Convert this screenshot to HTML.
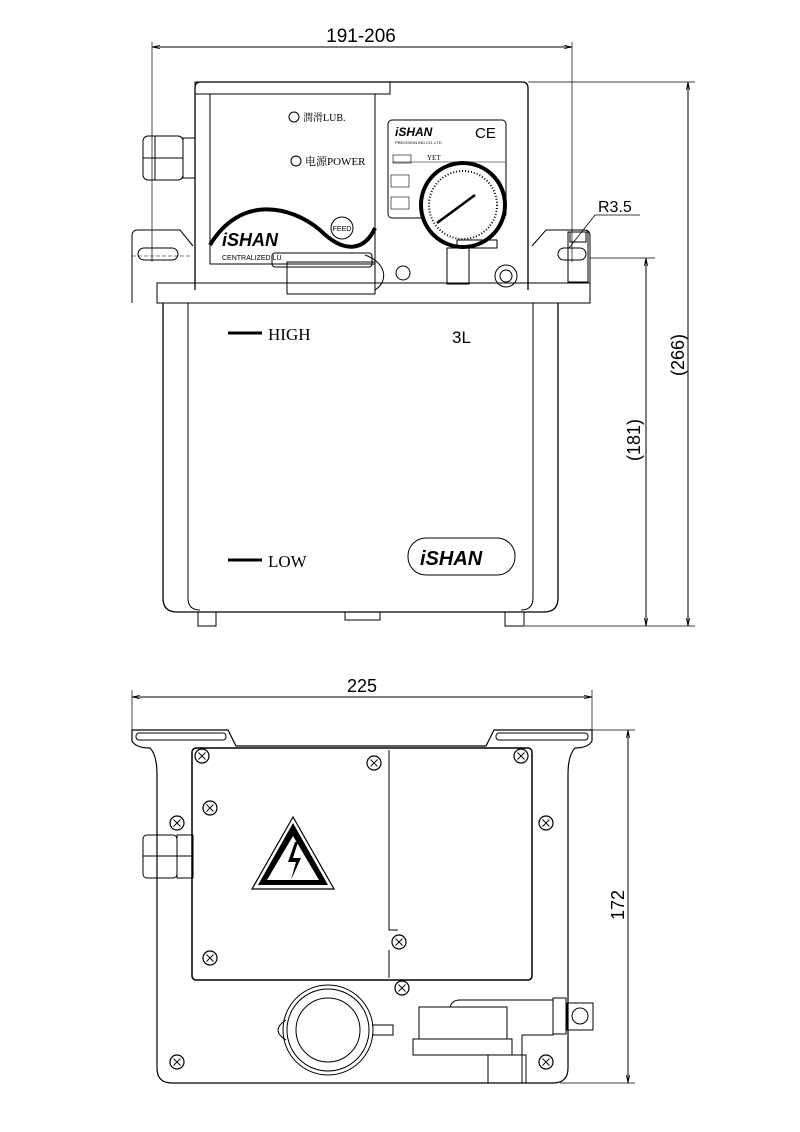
<!DOCTYPE html>
<html><head><meta charset="utf-8"><style>html,body{margin:0;padding:0;background:#fff}svg{display:block}</style></head><body>
<svg width="800" height="1132" viewBox="0 0 800 1132" xmlns="http://www.w3.org/2000/svg" font-family="Liberation Sans, sans-serif">
<defs>
<marker id="a" viewBox="0 0 10 10" refX="10" refY="5" markerWidth="8" markerHeight="8" orient="auto-start-reverse"><path d="M0,3 L10,5 L0,7" fill="none" stroke="#000"/></marker>
<g id="sc"><circle r="7" fill="#fff" stroke="#000" stroke-width="1.2"/><path d="M-3.5,-3.5L3.5,3.5M-3.5,3.5L3.5,-3.5" stroke="#000" stroke-width="0.9"/></g>
</defs>
<g fill="none" stroke="#000" stroke-width="1">
<line x1="152" y1="47" x2="572" y2="47" marker-start="url(#a)" marker-end="url(#a)"/>
<line x1="152" y1="42" x2="152" y2="262" stroke-width="0.7"/>
<line x1="572" y1="42" x2="572" y2="262" stroke-width="0.7"/>
<line x1="528" y1="82" x2="695" y2="82" stroke-width="0.7"/>
<line x1="590" y1="258" x2="655" y2="258" stroke-width="0.7"/>
<line x1="525" y1="626" x2="695" y2="626" stroke-width="0.7"/>
<line x1="688" y1="82" x2="688" y2="626" marker-start="url(#a)" marker-end="url(#a)"/>
<line x1="646" y1="258" x2="646" y2="626" marker-start="url(#a)" marker-end="url(#a)"/>
<polyline points="569,248 595,215 640,215" stroke-width="0.8"/>
<path d="M195,290 V88 Q195,82 201,82 H522 Q528,82 528,88 V290" stroke-width="1.3"/>
<rect x="195" y="82" width="195" height="12"/>
<rect x="210" y="94" width="165" height="170"/>
<path d="M210,245 C240,195 290,205 320,230 C345,255 365,250 375,228" stroke-width="4"/>
<circle cx="342" cy="228" r="11"/>
<circle cx="294" cy="117" r="5"/><circle cx="296" cy="161" r="5"/>
<rect x="388" y="120" width="118" height="98" rx="4"/>
<line x1="393" y1="162" x2="505" y2="162" stroke-width="0.6"/>
<rect x="393" y="155" width="18" height="8" stroke-width="0.6"/>
<rect x="391" y="175" width="18" height="12" stroke-width="0.6"/>
<rect x="391" y="197" width="18" height="12" stroke-width="0.6"/>
<circle cx="463" cy="205" r="42" stroke-width="4" fill="#fff"/>
<circle cx="463" cy="205" r="34" stroke-width="2" stroke-dasharray="1 2"/>
<line x1="437" y1="223" x2="475" y2="195" stroke-width="2.5"/>
<rect x="447" y="248" width="22" height="36"/>
<rect x="457" y="240" width="40" height="8"/>
<rect x="143" y="136" width="40" height="44" rx="5"/>
<rect x="183" y="138" width="12" height="40"/>
<line x1="155" y1="136" x2="155" y2="180"/><line x1="143" y1="158" x2="183" y2="158"/>
<path d="M132,303 V236 Q132,230 138,230 H180 L193,246"/>
<rect x="138" y="248" width="40" height="12" rx="6"/>
<line x1="132" y1="256" x2="190" y2="256" stroke-dasharray="4 2" stroke-width="0.6"/>
<path d="M590,303 V236 Q590,230 584,230 H546 L532,246"/>
<rect x="558" y="248" width="28" height="12" rx="6"/>
<rect x="568" y="232" width="20" height="50"/>
<rect x="570" y="232" width="16" height="10"/>
<circle cx="506" cy="276" r="11"/><circle cx="506" cy="276" r="6"/>
<rect x="287" y="262" width="88" height="32"/>
<rect x="272" y="253" width="100" height="14" rx="3"/>
<circle cx="403" cy="273" r="7"/>
<path d="M365,255 C385,262 390,280 375,290"/>
<rect x="157" y="283" width="433" height="20"/>
<path d="M163,303 V598 Q163,612 177,612 H544 Q558,612 558,598 V303" stroke-width="1.3"/>
<line x1="188" y1="303" x2="188" y2="598"/>
<line x1="533" y1="303" x2="533" y2="598"/>
<path d="M188,598 Q188,610 200,610 M533,598 Q533,610 521,610"/>
<rect x="198" y="612" width="18" height="14"/><rect x="345" y="612" width="35" height="8"/><rect x="505" y="612" width="19" height="14"/>
<line x1="228" y1="333" x2="262" y2="333" stroke-width="3"/>
<line x1="228" y1="560" x2="262" y2="560" stroke-width="3"/>
<rect x="408" y="538" width="107" height="37" rx="18"/>
<line x1="132" y1="697" x2="592" y2="697" marker-start="url(#a)" marker-end="url(#a)"/>
<line x1="132" y1="690" x2="132" y2="740" stroke-width="0.7"/>
<line x1="592" y1="690" x2="592" y2="740" stroke-width="0.7"/>
<line x1="592" y1="730" x2="635" y2="730" stroke-width="0.7"/>
<line x1="560" y1="1083" x2="635" y2="1083" stroke-width="0.7"/>
<line x1="628" y1="730" x2="628" y2="1083" marker-start="url(#a)" marker-end="url(#a)"/>
<path d="M132,730 H228 L236,746 H486 L494,730 H592 V741 Q588,748 575,748 Q568,755 568,775 V1068 Q568,1083 553,1083 H172 Q157,1083 157,1068 V775 Q157,755 150,748 Q136,748 132,741 Z" stroke-width="1.2"/>
<rect x="136" y="733" width="90" height="7" rx="3"/><rect x="496" y="733" width="92" height="7" rx="3"/>
<rect x="192" y="748" width="340" height="232" rx="4" stroke-width="1.5"/>
<path d="M389,750 V930 H398 M389,950 V978" />
<circle cx="328" cy="1030" r="45"/><circle cx="328" cy="1030" r="41"/><circle cx="328" cy="1030" r="32"/>
<path d="M286,1020 Q270,1030 286,1040 M372,1025 H393 V1035 H372"/>
<rect x="419" y="1007" width="88" height="32"/>
<rect x="413" y="1039" width="99" height="16"/>
<rect x="488" y="1055" width="38" height="28"/>
<path d="M450,1007 Q452,1000 460,1000 H553 V1035 H522 V1083"/>
<rect x="553" y="998" width="13" height="36"/>
<rect x="567" y="1003" width="26" height="27"/><circle cx="580" cy="1016" r="8"/>
<rect x="143" y="835" width="34" height="43" rx="4"/><rect x="177" y="835" width="16" height="43"/>
<line x1="143" y1="856" x2="193" y2="856"/>
</g>
<polygon points="293,817 252,889 334,889" fill="#fff" stroke="#000" stroke-width="1.2"/>
<polygon points="293,823 258,885 328,885" fill="#000"/>
<polygon points="293,836 267,880 319,880" fill="#fff"/>
<polygon points="295,842 288,862 296,862 291,880 301,858 293,858 298,842" fill="#000"/>
<g>
<use href="#sc" x="202" y="756"/><use href="#sc" x="374" y="763"/><use href="#sc" x="210" y="808"/>
<use href="#sc" x="177" y="823"/><use href="#sc" x="546" y="823"/><use href="#sc" x="210" y="958"/>
<use href="#sc" x="399" y="942"/><use href="#sc" x="402" y="988"/><use href="#sc" x="177" y="1062"/>
<use href="#sc" x="546" y="1062"/><use href="#sc" x="521" y="756"/>
</g>
<g fill="#000">
<text x="361" y="42" font-size="19" text-anchor="middle">191-206</text>
<text x="598" y="212" font-size="16">R3.5</text>
<text font-size="18" transform="translate(684,355) rotate(-90)" text-anchor="middle">(266)</text>
<text font-size="18" transform="translate(640,440) rotate(-90)" text-anchor="middle">(181)</text>
<text x="362" y="692" font-size="18" text-anchor="middle">225</text>
<text font-size="18" transform="translate(624,905) rotate(-90)" text-anchor="middle">172</text>
<text x="268" y="340" font-size="17" font-family="Liberation Serif, serif">HIGH</text>
<text x="268" y="567" font-size="17" font-family="Liberation Serif, serif">LOW</text>
<text x="452" y="343" font-size="17">3L</text>
<text x="303" y="121" font-size="10" font-family="Liberation Serif, Noto Serif CJK SC, serif">潤滑LUB.</text>
<text x="305" y="165" font-size="11" font-family="Liberation Serif, Noto Serif CJK SC, serif">电源POWER</text>
<text x="222" y="246" font-size="18" font-weight="bold" font-style="italic">iSHAN</text>
<text x="222" y="260" font-size="7">CENTRALIZED LU</text>
<text x="342" y="231" font-size="7" text-anchor="middle">FEED</text>
<text x="395" y="136" font-size="12" font-weight="bold" font-style="italic">iSHAN</text>
<text x="475" y="138" font-size="15">CE</text>
<text x="395" y="144" font-size="4">PRECISION IND.CO.,LTD</text>
<text x="427" y="160" font-size="7" font-family="Liberation Serif, serif">YET</text>
<text x="420" y="565" font-size="20" font-weight="bold" font-style="italic">iSHAN</text>
</g>
</svg>
</body></html>
